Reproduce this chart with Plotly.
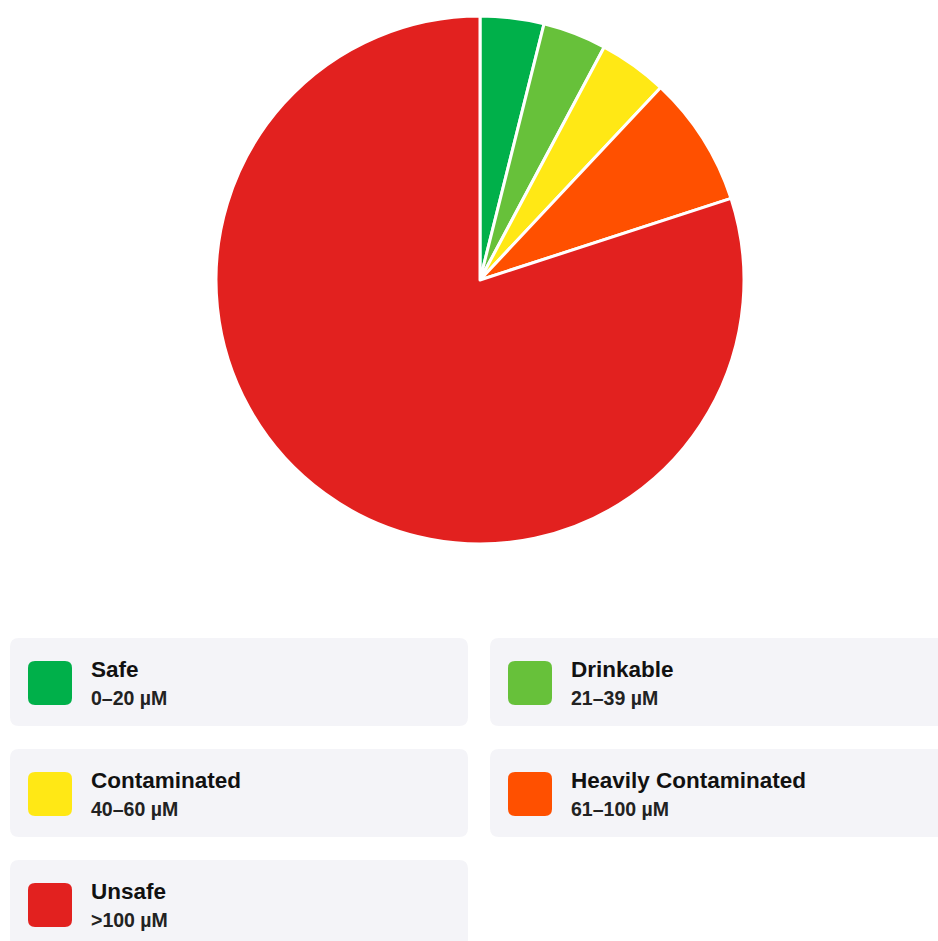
import plotly.graph_objects as go

# Share of sampled wells in each arsenic concentration band (%)
categories = ["Safe", "Drinkable", "Contaminated", "Heavily Contaminated", "Unsafe"]
ranges = ["0–20 µM", "21–39 µM", "40–60 µM", "61–100 µM", ">100 µM"]
shares = [3.9, 3.9, 4.2, 8.0, 80.0]
colors = ["#00b04a", "#67c13a", "#ffe815", "#ff5000", "#e2211f"]

W, H = 938, 941


def px_x(x):
    return x / W


def px_y(y):
    return 1 - y / H


def rounded_rect(x0, y0, x1, y1, r):
    """SVG path (paper coordinates) of a rounded rectangle given in pixels."""
    pts = [
        f"M {px_x(x0 + r)},{px_y(y0)}",
        f"L {px_x(x1 - r)},{px_y(y0)}",
        f"Q {px_x(x1)},{px_y(y0)} {px_x(x1)},{px_y(y0 + r)}",
        f"L {px_x(x1)},{px_y(y1 - r)}",
        f"Q {px_x(x1)},{px_y(y1)} {px_x(x1 - r)},{px_y(y1)}",
        f"L {px_x(x0 + r)},{px_y(y1)}",
        f"Q {px_x(x0)},{px_y(y1)} {px_x(x0)},{px_y(y1 - r)}",
        f"L {px_x(x0)},{px_y(y0 + r)}",
        f"Q {px_x(x0)},{px_y(y0)} {px_x(x0 + r)},{px_y(y0)}",
        "Z",
    ]
    return " ".join(pts)


fig = go.Figure(
    go.Pie(
        labels=categories,
        values=shares,
        marker=dict(colors=colors, line=dict(color="white", width=3)),
        sort=False,
        direction="clockwise",
        rotation=0,
        textinfo="none",
        hoverinfo="label+percent",
        showlegend=False,
        domain=dict(x=[px_x(216), px_x(744)], y=[px_y(544), px_y(16)]),
    )
)

# Card legend: two columns of rounded panels beneath the pie
col_x = [10, 490]
row_y = [638, 749, 860]
card_w, card_h = 458, 88
shapes = []
annotations = []
for i, (name, rng, col) in enumerate(zip(categories, ranges, colors)):
    cx = col_x[i % 2]
    cy = row_y[i // 2]
    shapes.append(dict(
        type="path", xref="paper", yref="paper",
        path=rounded_rect(cx, cy, cx + card_w, cy + card_h, 9),
        fillcolor="#f4f4f8", line=dict(width=0), layer="below",
    ))
    shapes.append(dict(
        type="path", xref="paper", yref="paper",
        path=rounded_rect(cx + 18, cy + 23, cx + 62, cy + 67, 7),
        fillcolor=col, line=dict(width=0),
    ))
    annotations.append(dict(
        x=px_x(cx + 79), y=px_y(cy + 31), xref="paper", yref="paper",
        xanchor="left", yanchor="middle", showarrow=False,
        text=f"<b>{name}</b>",
        font=dict(family="Liberation Sans, Arial, sans-serif", size=22.5, color="#111111"),
    ))
    annotations.append(dict(
        x=px_x(cx + 79), y=px_y(cy + 59.5), xref="paper", yref="paper",
        xanchor="left", yanchor="middle", showarrow=False,
        text=f"<b>{rng}</b>",
        font=dict(family="Liberation Sans, Arial, sans-serif", size=19.5, color="#222222"),
    ))

fig.update_layout(
    width=W, height=H,
    margin=dict(l=0, r=0, t=0, b=0),
    paper_bgcolor="white",
    plot_bgcolor="white",
    shapes=shapes,
    annotations=annotations,
)

fig.write_html("out.html")
